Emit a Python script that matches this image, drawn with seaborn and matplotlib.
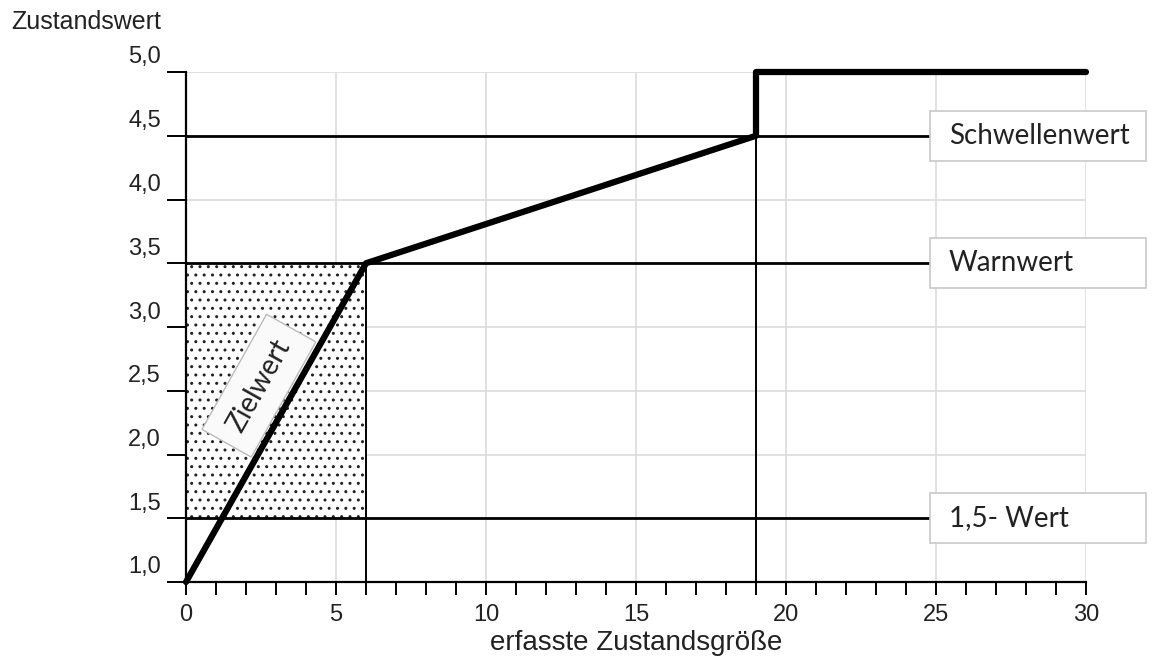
import matplotlib
matplotlib.use("Agg")
import matplotlib.pyplot as plt
import matplotlib.transforms as mtransforms
from matplotlib.patches import Rectangle
import pandas as pd
import seaborn as sns

# Verlauf des Zustandswerts
zustand_x = [0, 6, 19, 19, 30]
zustand_y = [1.0, 3.5, 4.5, 5.0, 5.0]

# Grenzwerte
grenz_werte = [4.5, 3.5, 1.5]
grenz_labels = ["Schwellenwert", "Warnwert", "1,5- Wert"]

# Zielwert-Bereich
ziel_x = [0, 6]
ziel_y = [1.5, 3.5]

# Achsen
x_ticks = [0, 5, 10, 15, 20, 25, 30]
y_ticks = [1.0, 1.5, 2.0, 2.5, 3.0, 3.5, 4.0, 4.5, 5.0]
y_ticklabels = ["1,0", "1,5", "2,0", "2,5", "3,0", "3,5", "4,0", "4,5", "5,0"]

sns.set_style("white")
plt.rcParams['font.family'] = ['Liberation Sans', 'DejaVu Sans']
plt.rcParams['hatch.linewidth'] = 1.0
box_font = ['Lato', 'DejaVu Sans']
txt_col = '#222222'

df = pd.DataFrame({'x': zustand_x, 'y': zustand_y})

fig = plt.figure(figsize=(11.52, 6.64), dpi=100)
ax = fig.add_axes([186 / 1152, 82 / 664, 900 / 1152, 510 / 664])
ax.set_xlim(0, 30)
ax.set_ylim(1, 5)

# grid
ax.set_xticks(x_ticks)
ax.set_xticks(range(0, 31), minor=True)
ax.set_yticks(y_ticks)
ax.set_yticklabels(y_ticklabels)
ax.grid(True, which='major', color='#dcdcdc', linewidth=1.2)
ax.set_axisbelow(True)

# stippled target area
ax.fill_between(ziel_x, ziel_y[0], ziel_y[1], facecolor='white',
                hatch='..', edgecolor='#222222', linewidth=0, zorder=2)

# threshold lines
ax.hlines(grenz_werte, 0, 24.8, color='black', linewidth=2, zorder=3, clip_on=False)

# verticals at the kinks
ax.vlines([zustand_x[1], zustand_x[2]], 1.0, [zustand_y[1], zustand_y[2]],
          color='black', linewidth=1.4, zorder=3)

sns.lineplot(data=df, x='x', y='y', sort=False, estimator=None, color='black',
             linewidth=4.5, ax=ax, zorder=5, clip_on=False)

# label boxes on the right
for val, lab in zip(grenz_werte, grenz_labels):
    ax.add_patch(Rectangle((24.8, val - 0.195), 7.2, 0.39, facecolor='white',
                           edgecolor='#c8c8c8', linewidth=1.2, zorder=4, clip_on=False))
    ax.text(25.43, val, lab, family=box_font, fontsize=20, color=txt_col,
            ha='left', va='center', zorder=6, clip_on=False)

# Zielwert label rotated along the line
ax.text(2.43, 2.54, "Zielwert", family=box_font, fontsize=20, color=txt_col,
        rotation=60.7, rotation_mode='anchor', ha='center', va='center', zorder=6,
        bbox=dict(boxstyle='square,pad=0.55', facecolor='#fafafa',
                  edgecolor='#bbbbbb', linewidth=1))

# spines and ticks
sns.despine(ax=ax)
for s in ['left', 'bottom']:
    ax.spines[s].set_linewidth(1.6)
    ax.spines[s].set_color('black')
ax.tick_params(axis='x', which='both', bottom=True, direction='out', length=9,
               width=1.4, color='black', labelsize=17, pad=7, labelcolor=txt_col)
ax.tick_params(axis='y', which='major', left=True, direction='out', length=14,
               width=1.4, color='black', labelsize=17, pad=4, labelcolor=txt_col)

offset = mtransforms.ScaledTranslation(0, 0.17, fig.dpi_scale_trans)
for lab in ax.get_yticklabels():
    lab.set_transform(lab.get_transform() + offset)

ax.set_xlabel("erfasste Zustandsgröße", fontsize=20, color=txt_col, labelpad=3)
ax.set_ylabel("")
fig.text(11 / 1152, 1 - 22 / 664, "Zustandswert", fontsize=18, color=txt_col,
         ha='left', va='center')

plt.savefig("out.png", dpi=100)
